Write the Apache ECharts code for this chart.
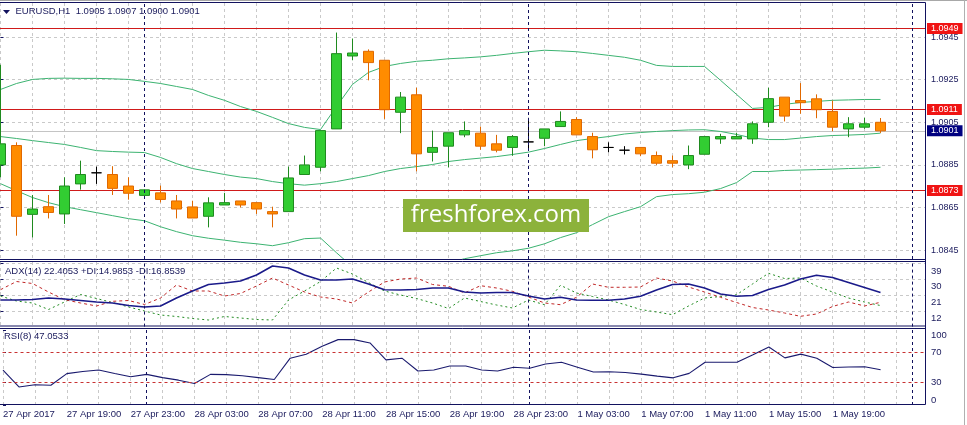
<!DOCTYPE html>
<html><head><meta charset="utf-8">
<script src="https://cdn.jsdelivr.net/npm/echarts@6/dist/echarts.min.js"></script>
<style>html,body{margin:0;padding:0;background:#fff;overflow:hidden}#c{width:967px;height:425px}</style>
</head><body><div id="c"></div><script>
// ---------------- data ----------------
const timeLabels = ['27 Apr 2017','27 Apr 19:00','27 Apr 23:00','28 Apr 03:00','28 Apr 07:00','28 Apr 11:00','28 Apr 15:00','28 Apr 19:00','28 Apr 23:00','1 May 03:00','1 May 07:00','1 May 11:00','1 May 15:00','1 May 19:00'];
const opens = [1.08850,1.08941,1.08618,1.08654,1.08620,1.08761,1.08813,1.08805,1.08751,1.08707,
  1.08719,1.08681,1.08653,1.08609,1.08662,1.08681,1.08673,1.08631,1.08631,1.08805,
  1.08839,1.09019,1.09361,1.09383,1.09341,1.09097,1.09179,1.08909,1.08938,1.08991,
  1.08999,1.08949,1.08932,1.08958,1.08975,1.09030,1.09063,1.08983,1.08932,1.08919,
  1.08932,1.08894,1.08870,1.08850,1.08900,1.08972,1.08972,1.08972,1.09050,1.09168,
  1.09152,1.09160,1.09101,1.09019,1.09027,1.09050];
const highs = [1.09320,1.08956,1.08709,1.08709,1.08792,1.08870,1.08842,1.08844,1.08792,1.08735,
  1.08753,1.08709,1.08682,1.08698,1.08719,1.08681,1.08673,1.08654,1.08842,1.08894,
  1.09011,1.09471,1.09443,1.09392,1.09341,1.09192,1.09212,1.09011,1.09001,1.09054,
  1.09030,1.08991,1.08990,1.09071,1.09019,1.09101,1.09074,1.09001,1.08956,1.08938,
  1.08932,1.08913,1.08894,1.08941,1.08983,1.08996,1.09001,1.09054,1.09212,1.09168,
  1.09234,1.09181,1.09152,1.09074,1.09071,1.09070];
const lows = [1.08792,1.08518,1.08510,1.08599,1.08573,1.08734,1.08761,1.08709,1.08687,1.08705,
  1.08674,1.08599,1.08601,1.08557,1.08662,1.08651,1.08620,1.08557,1.08631,1.08805,
  1.08820,1.09019,1.09341,1.09247,1.09066,1.08999,1.08820,1.08866,1.08839,1.08980,
  1.08921,1.08909,1.08893,1.08922,1.08938,1.09030,1.08991,1.08881,1.08909,1.08899,
  1.08891,1.08850,1.08839,1.08830,1.08900,1.08949,1.08972,1.08949,1.09027,1.09054,
  1.09090,1.09069,1.09008,1.08980,1.09019,1.09000];
const closes = [1.08949,1.08609,1.08643,1.08627,1.08751,1.08805,1.08813,1.08740,1.08717,1.08733,
  1.08688,1.08643,1.08601,1.08672,1.08673,1.08662,1.08643,1.08620,1.08789,1.08850,
  1.09011,1.09372,1.09375,1.09330,1.09109,1.09168,1.08902,1.08932,1.09001,1.09011,
  1.08938,1.08919,1.08983,1.08958,1.09019,1.09054,1.08991,1.08921,1.08932,1.08919,
  1.08902,1.08858,1.08858,1.08894,1.08983,1.08983,1.08983,1.09043,1.09161,1.09079,
  1.09142,1.09109,1.09027,1.09043,1.09043,1.09010];
const bbUpper = [1.09204,1.09232,1.09251,1.09256,1.09257,1.09256,1.09256,1.09254,1.09251,1.09242,
  1.09232,1.09218,1.09204,1.09176,1.09153,1.09124,1.09101,1.09073,1.09044,1.09026,
  1.09016,1.09124,1.09228,1.09284,1.09312,1.09326,1.09336,1.09341,1.09348,1.09352,
  1.09357,1.09364,1.09373,1.09381,1.09388,1.09385,1.09381,1.09373,1.09364,1.09355,
  1.09341,1.09317,1.09312,1.09312,1.09312,1.09247,1.09181,1.09115,1.09120,1.09134,
  1.09143,1.09148,1.09153,1.09155,1.09157,1.09157];
const bbMiddle = [1.08983,1.08974,1.08964,1.08955,1.08946,1.08932,1.08917,1.08913,1.08910,1.08908,
  1.08885,1.08856,1.08833,1.08819,1.08805,1.08793,1.08786,1.08772,1.08762,1.08755,
  1.08762,1.08772,1.08786,1.08800,1.08819,1.08833,1.08842,1.08852,1.08866,1.08875,
  1.08882,1.08889,1.08899,1.08910,1.08927,1.08946,1.08964,1.08974,1.08983,1.08995,
  1.09002,1.09007,1.09011,1.09014,1.09015,1.09007,1.08993,1.08976,1.08969,1.08969,
  1.08976,1.08983,1.08988,1.08990,1.08993,1.08999];
const bbLower = [1.08762,1.08729,1.08697,1.08673,1.08654,1.08640,1.08626,1.08612,1.08598,1.08588,
  1.08560,1.08537,1.08518,1.08506,1.08497,1.08487,1.08480,1.08471,1.08485,1.08504,
  1.08507,1.08438,1.08372,1.08330,1.08316,1.08325,1.08344,1.08368,1.08391,1.08410,
  1.08424,1.08438,1.08447,1.08459,1.08480,1.08509,1.08532,1.08570,1.08607,1.08631,
  1.08654,1.08701,1.08711,1.08715,1.08722,1.08739,1.08767,1.08819,1.08819,1.08824,
  1.08826,1.08828,1.08830,1.08833,1.08835,1.08839];
const adx = [18.15,18.15,18.44,19.29,18.72,17.87,17.02,16.45,15.02,14.17,
  14.74,19.29,23.28,26.98,27.84,28.97,32.39,37.52,36.38,32.39,
  29.54,29.54,30.11,27.27,24.02,23.85,24.13,24.99,24.99,22.71,
  22.14,22.43,22.43,20.43,18.72,19.69,18.15,17.98,17.98,18.72,
  20.26,23.85,26.98,27.27,24.99,21.57,20.26,20.72,24.13,26.70,
  30.11,32.22,30.97,28.12,25.27,22.41];
const plusDI = [20.43,17.58,16.45,12.74,17.02,21.29,19.01,16.73,14.17,11.89,
  9.61,8.76,7.62,6.76,8.76,7.90,7.05,6.76,18.15,23.28,
  28.69,36.38,32.96,28.12,23.28,21.00,19.01,16.45,13.31,19.29,
  17.30,15.31,13.60,18.15,15.48,26.53,22.14,20.15,18.15,15.59,
  12.74,11.32,9.78,14.74,19.29,20.15,21.12,27.27,33.36,30.40,
  30.68,26.13,22.71,19.29,17.02,14.99];
const minusDI = [24.02,28.69,27.55,22.71,18.33,16.45,14.74,17.41,17.87,15.59,
  19.29,26.70,23.28,23.28,20.43,21.86,26.13,30.68,26.70,22.71,
  19.86,18.72,16.45,22.71,28.41,30.11,30.68,26.98,25.96,22.14,
  26.30,24.99,23.11,19.86,16.45,15.48,19.69,27.27,25.39,25.39,
  25.56,30.68,28.97,25.56,22.71,19.69,16.73,13.88,12.46,10.75,
  8.87,10.18,14.45,17.02,14.74,16.85];
const rsi = [46.62,24.05,27.03,26.35,41.89,44.59,46.62,41.89,37.57,40.81,
  36.48,33.11,28.65,40.81,40.54,38.92,36.48,34.05,62.43,67.57,
  78.38,87.16,87.16,82.70,60.13,62.43,45.27,46.62,52.03,52.03,
  46.62,45.27,50.27,48.92,54.73,57.03,50.27,43.92,44.32,43.24,
  41.21,38.51,36.21,42.16,57.03,57.03,57.03,66.89,77.30,62.84,
  67.84,62.43,50.00,50.68,51.08,47.05];
const priceTicks = [1.0845,1.0865,1.0885,1.0905,1.0925,1.0945];
const adxTicks = [12,21,30,39];
const rsiTicks = [0,30,70,100];
const rsiLevels = [70,30];
const levelLines = [1.0949,1.0911,1.0873];
const lastPrice = 1.0901;
const daySeparators = [9,33,57];
const legendMain = 'EURUSD,H1  1.0905 1.0907 1.0900 1.0901';
const legendAdx = 'ADX(14) 22.4053 +DI:14.9853 -DI:16.8539';
const legendRsi = 'RSI(8) 47.0533';
const watermark = 'freshforex.com';

// ---------------- chart ----------------
const FONT = '"Liberation Sans", Arial, sans-serif';
const NAVY = '#12125e';
const TXT = '#1a1a5c';
const GRIDC = '#c9c9c9';
const X_MIN = -0.03125, X_MAX = 57.78125;
const P_MIN = 1.0840864, P_MAX = 1.0960963;
const n = opens.length;
const gridTicks = [];
for (let i = 0; i < n + 2; i += 2) gridTicks.push(i);
const labelIdx = timeLabels.map((t, k) => k * 4);

const candles = opens.map((o, i) => [i, o, closes[i], lows[i], highs[i]]);
const toXY = arr => arr.map((v, i) => [i, v]);

function xAxisCfg(gi, showLabels) {
  return {
    type: 'value', gridIndex: gi, min: X_MIN, max: X_MAX,
    axisLine: {show: false},
    axisTick: {show: false, customValues: gridTicks},
    splitLine: {show: true, lineStyle: {color: GRIDC, type: [3, 3], width: 1}},
    axisLabel: showLabels ? {
      show: true, customValues: labelIdx,
      formatter: v => timeLabels[Math.round(v / 4)],
      align: 'left', color: TXT, fontSize: 9.5, fontFamily: FONT, margin: 4
    } : {show: false}
  };
}
const sepLine = {
  silent: true, symbol: ['none', 'none'], label: {show: false}, precision: 6,
  lineStyle: {color: NAVY, type: [3, 3], width: 1},
  emphasis: {disabled: true},
  data: daySeparators.map(d => ({xAxis: d}))
};
const priceLabel = {show: true, position: 'end', distance: 2,
  color: '#ffffff', fontSize: 9, fontFamily: FONT, padding: [1, 4, 0, 4], lineHeight: 10};
const priceLines = {
  silent: true, symbol: ['none', 'none'], z: 1, precision: 6,
  emphasis: {disabled: true},
  lineStyle: {color: '#d01a1a', type: 'solid', width: 1},
  data: levelLines.map(v => ({yAxis: v,
      label: Object.assign({}, priceLabel, {formatter: v.toFixed(4), backgroundColor: '#f01414'})}))
    .concat([{yAxis: lastPrice, lineStyle: {color: '#c4c4c4', type: 'solid', width: 1},
      label: Object.assign({}, priceLabel, {formatter: lastPrice.toFixed(4), backgroundColor: '#000080'})}])
};

const option = {
  animation: false,
  backgroundColor: '#ffffff',
  grid: [
    {left: 0, width: 925, top: 3, height: 256},
    {left: 0, width: 925, top: 262, height: 64.6},
    {left: 0, width: 925, top: 330, height: 75}
  ],
  xAxis: [xAxisCfg(0, false), xAxisCfg(1, false), xAxisCfg(2, true)],
  yAxis: [
    {type: 'value', gridIndex: 0, position: 'right', min: P_MIN, max: P_MAX,
      axisLine: {show: false},
      axisTick: {show: true, length: 3, customValues: priceTicks, lineStyle: {color: NAVY}},
      axisLabel: {customValues: priceTicks, formatter: v => v.toFixed(4), color: TXT, fontSize: 9, fontFamily: FONT, margin: 6},
      splitLine: {show: true, lineStyle: {color: GRIDC, type: [3, 3], width: 1}}},
    {type: 'value', gridIndex: 1, position: 'right', min: 3, max: 39.8,
      axisLine: {show: false},
      axisTick: {show: true, length: 3, customValues: adxTicks, lineStyle: {color: NAVY}},
      axisLabel: {customValues: adxTicks, color: TXT, fontSize: 9.5, fontFamily: FONT, margin: 6,
        verticalAlign: 'top', lineHeight: 15, showMinLabel: true, showMaxLabel: true, hideOverlap: false},
      splitLine: {show: true, lineStyle: {color: GRIDC, type: [3, 3], width: 1}}},
    {type: 'value', gridIndex: 2, position: 'right', min: 0, max: 100,
      axisLine: {show: false},
      axisTick: {show: true, length: 3, customValues: rsiTicks, lineStyle: {color: NAVY}},
      axisLabel: {customValues: rsiTicks, color: TXT, fontSize: 9.5, fontFamily: FONT, margin: 6,
        verticalAlignMinLabel: 'bottom', verticalAlignMaxLabel: 'top', showMinLabel: true, showMaxLabel: true},
      splitLine: {show: false}}
  ],
  series: [
    {type: 'line', name: 'BB upper', xAxisIndex: 0, yAxisIndex: 0, data: toXY(bbUpper), symbol: 'none',
      lineStyle: {color: '#3cb371', width: 1}, z: 2, markLine: priceLines},
    {type: 'line', name: 'BB middle', xAxisIndex: 0, yAxisIndex: 0, data: toXY(bbMiddle), symbol: 'none',
      lineStyle: {color: '#3cb371', width: 1}, z: 2, markLine: sepLine},
    {type: 'line', name: 'BB lower', xAxisIndex: 0, yAxisIndex: 0, data: toXY(bbLower), symbol: 'none',
      lineStyle: {color: '#3cb371', width: 1}, z: 2},
    {type: 'candlestick', name: 'EURUSD', xAxisIndex: 0, yAxisIndex: 0, data: candles,
      encode: {x: 0, y: [1, 2, 3, 4]}, barWidth: 10, z: 3,
      itemStyle: {color: '#32cd32', color0: '#ff8c00', borderColor: '#1f8a1f', borderColor0: '#e06800',
        borderColorDoji: '#000000', borderWidth: 1}},
    {type: 'line', name: 'ADX', xAxisIndex: 1, yAxisIndex: 1, data: toXY(adx), symbol: 'none',
      lineStyle: {color: '#1a1a8a', width: 1.6}, z: 4, markLine: sepLine},
    {type: 'line', name: '+DI', xAxisIndex: 1, yAxisIndex: 1, data: toXY(plusDI), symbol: 'none',
      lineStyle: {color: '#228b22', width: 1, type: [2, 3]}, z: 3},
    {type: 'line', name: '-DI', xAxisIndex: 1, yAxisIndex: 1, data: toXY(minusDI), symbol: 'none',
      lineStyle: {color: '#c02828', width: 1, type: [3, 3]}, z: 3},
    {type: 'line', name: 'RSI', xAxisIndex: 2, yAxisIndex: 2, data: toXY(rsi), symbol: 'none',
      lineStyle: {color: '#1a1a6e', width: 1.1}, z: 4,
      markLine: {
        silent: true, symbol: ['none', 'none'], label: {show: false}, precision: 6,
        data: rsiLevels.map(v => ({yAxis: v, lineStyle: {color: '#c83232', type: [3, 3], width: 1}}))
          .concat(daySeparators.map(d => ({xAxis: d, lineStyle: {color: NAVY, type: [3, 3], width: 1}})))
      }}
  ],
  graphic: [
    {type: 'line', z: 100, shape: {x1: 0, y1: 0.5, x2: 967, y2: 0.5}, style: {stroke: '#a8a8a8', lineWidth: 1}},
    {type: 'line', z: 100, shape: {x1: 964.5, y1: 0, x2: 964.5, y2: 425}, style: {stroke: '#b0b0b0', lineWidth: 1}},
    {type: 'line', z: 100, shape: {x1: 0, y1: 2.5, x2: 925.5, y2: 2.5}, style: {stroke: NAVY, lineWidth: 1}},
    {type: 'line', z: 100, shape: {x1: 925.5, y1: 2.5, x2: 925.5, y2: 404.5}, style: {stroke: NAVY, lineWidth: 1}},
    {type: 'line', z: 100, shape: {x1: 0, y1: 259.5, x2: 925.5, y2: 259.5}, style: {stroke: NAVY, lineWidth: 1}},
    {type: 'line', z: 100, shape: {x1: 0, y1: 261.5, x2: 925.5, y2: 261.5}, style: {stroke: NAVY, lineWidth: 1}},
    {type: 'line', z: 100, shape: {x1: 0, y1: 326, x2: 925.5, y2: 326}, style: {stroke: NAVY, lineWidth: 1}},
    {type: 'line', z: 100, shape: {x1: 0, y1: 328.5, x2: 925.5, y2: 328.5}, style: {stroke: NAVY, lineWidth: 1}},
    {type: 'line', z: 100, shape: {x1: 0, y1: 404.5, x2: 925.5, y2: 404.5}, style: {stroke: NAVY, lineWidth: 1}},
    {type: 'polygon', z: 100, shape: {points: [[3, 10], [10, 10], [6.5, 14]]}, style: {fill: NAVY}},
    {type: 'text', z: 100, left: 15.5, top: 6.5, style: {text: legendMain, fill: TXT, font: '9.5px ' + FONT}},
    {type: 'text', z: 100, left: 5, top: 266, style: {text: legendAdx, fill: TXT, font: '9.5px ' + FONT}},
    {type: 'text', z: 100, left: 4, top: 331.5, style: {text: legendRsi, fill: TXT, font: '9.5px ' + FONT}},
    {type: 'rect', z: 90, shape: {x: 403, y: 199, width: 186, height: 33}, style: {fill: '#8cb23b'}},
    {type: 'text', z: 91, x: 496, y: 215.5, style: {text: watermark, fill: '#ffffff', font: '24px "Open Sans", sans-serif',
      textAlign: 'center', textVerticalAlign: 'middle'}}
  ]
};
const chart = echarts.init(document.getElementById('c'), null, {renderer: 'canvas'});
chart.setOption(option);
</script></body></html>
